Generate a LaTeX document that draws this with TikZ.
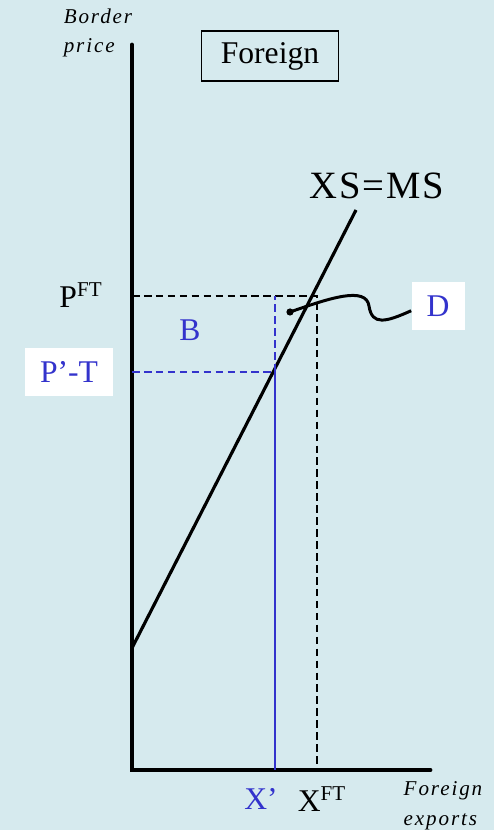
\documentclass[tikz,border=0pt]{standalone}
\usepackage{fontspec}
\setmainfont{Liberation Serif}
\newfontfamily\axisfont[LetterSpace=9]{Liberation Serif}
\newfontfamily\curvefont[LetterSpace=5]{Liberation Serif}
\usetikzlibrary{arrows.meta, positioning, calc}

\definecolor{bgblue}{RGB}{214,234,238}
\definecolor{tariffblue}{RGB}{51,51,204}

\begin{document}
\begin{tikzpicture}[
    x=0.02cm, y=-0.02cm,
    axis/.style={line width=2.8pt, line cap=round},
    curve/.style={line width=1.8pt},
    guide/.style={line width=1.6pt, dash pattern=on 4.3pt off 2.5pt},
    axislabel/.style={font=\axisfont\itshape\fontsize{12}{17}\selectfont, align=left},
    lbl/.style={font=\fontsize{18}{20}\selectfont, inner sep=1pt},
    whitebox/.style={rectangle, fill=white, font=\fontsize{18}{20}\selectfont,
                     text=tariffblue},
    titlebox/.style={rectangle, draw=black, line width=0.6pt,
                     minimum width=2.74cm, minimum height=1cm,
                     font=\fontsize{18}{20}\selectfont},
]

% background
\fill[bgblue] (0,0) rectangle (494,830);
\useasboundingbox (0,0) rectangle (494,830);

% --- Axes ---
\coordinate (O) at (132,770);
\coordinate (ytop) at (132,45);
\coordinate (xend) at (430,770);
\draw[axis] (ytop) -- (O) -- (xend);

\node[axislabel] (ylab) at (98,33) {Border\\price};
\node[axislabel] (xlab) at (443,806) {Foreign\\exports};

% title box
\node[titlebox] (title) at (270,56) {Foreign};

% --- Excess supply curve ---
\coordinate (s0) at (132,648);
\coordinate (s1) at (356,210);
\draw[curve] (s0) -- (s1);
\node[font=\curvefont\fontsize{22}{24}\selectfont] (xsms) at (377,186) {XS=MS};

% --- Free trade price and quantity ---
\coordinate (pft) at (132,296);
\coordinate (eft) at (317,296);
\coordinate (xft) at (317,770);
\draw[guide] (pft) -- (eft) -- (xft);
\node[lbl] (pftlab) at (81,295) {P\textsuperscript{\fontsize{12}{12}\selectfont FT}};
\node[lbl] (xftlab) at (322,799) {X\textsuperscript{\fontsize{12}{12}\selectfont FT}};

% --- Price net of tariff ---
\coordinate (ppt) at (132,372);
\coordinate (ept) at (275,372);
\coordinate (bq) at (275,296);
\coordinate (xpr) at (275,770);
\draw[guide, tariffblue] (ppt) -- (ept) -- (bq);
\draw[tariffblue, line width=1.6pt] (ept) -- (xpr);
\node[whitebox, minimum width=1.78cm, minimum height=0.96cm] (pptlab) at (69,372) {P’-T};
\node[lbl, text=tariffblue] (xprlab) at (261,799) {X’};
\node[lbl, text=tariffblue] (blab) at (190,330) {B};

% --- Area D ---
\node[whitebox, minimum width=1.06cm, minimum height=0.98cm] (dlab) at (438,306) {D};
\fill (290,312) circle (3.6) coordinate (dotD);
\draw[line width=1.7pt] (dotD) .. controls (330,298) and (366,286) .. (369,306)
    .. controls (372,326) and (386,322) .. (dlab.190);

\end{tikzpicture}
\end{document}
